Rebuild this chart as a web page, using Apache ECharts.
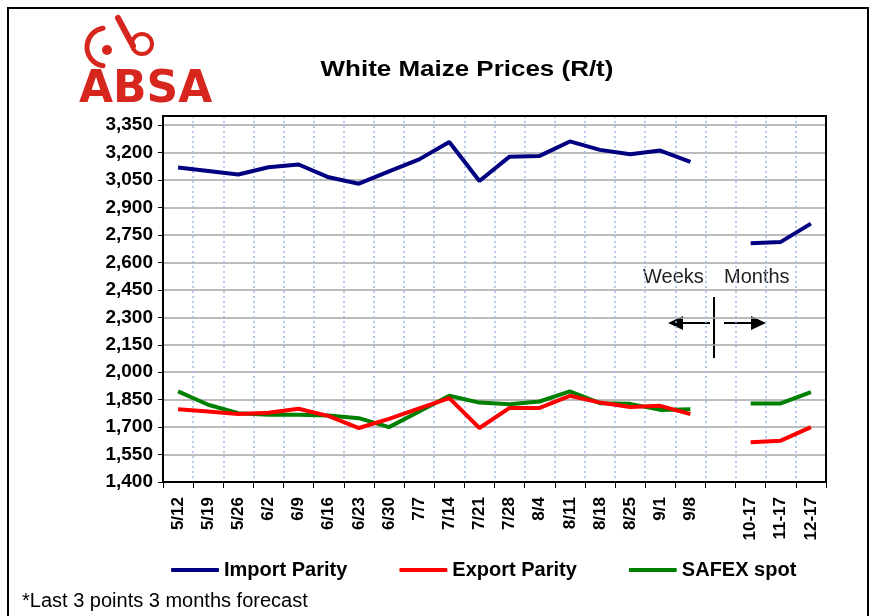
<!DOCTYPE html>
<html>
<head>
<meta charset="utf-8">
<script src="https://cdn.jsdelivr.net/npm/echarts@6/dist/echarts.min.js"></script>
<style>
html,body{margin:0;padding:0;background:#fff;}
#c{width:872px;height:616px;}
</style>
</head>
<body>
<div id="c"></div>
<script>
var categories = ['5/12','5/19','5/26','6/2','6/9','6/16','6/23','6/30','7/7','7/14','7/21','7/28','8/4','8/11','8/18','8/25','9/1','9/8','','10-17','11-17','12-17'];
var importParity = [3118,3100,3080,3120,3135,3065,3030,3097,3163,3258,3045,3178,3182,3261,3215,3191,3211,3149,null,2705,2712,2812];
var exportParity = [1798,1785,1772,1778,1800,1760,1695,1745,1802,1858,1695,1805,1805,1871,1834,1810,1816,1771,null,1617,1626,1700];
var safexSpot   = [1895,1822,1776,1767,1767,1763,1749,1700,1785,1871,1834,1825,1840,1895,1831,1827,1794,1798,null,1829,1829,1891];
var seriesNames = ['Import Parity','Export Parity','SAFEX spot'];
var seriesColors = ['#000080','#ff0000','#008000'];

var sans = '"Liberation Sans", Arial, sans-serif';

var chart = echarts.init(document.getElementById('c'));
var data = [importParity, exportParity, safexSpot];
var series = seriesNames.map(function(n, i){
  return {
    name: n, type: 'line', data: data[i], symbol: 'none', connectNulls: false,
    lineStyle: {color: seriesColors[i], width: 4}, itemStyle: {color: seriesColors[i]},
    z: 10 - i
  };
});

var red = '#d7261e';
var G = {left: 163, top: 116, right: 46, bottom: 134};
chart.setOption({
  animation: false,
  backgroundColor: '#fff',
  grid: {left: G.left, right: G.right, top: G.top, bottom: G.bottom},
  legend: {
    bottom: 31, left: 166, itemWidth: 48, itemHeight: 4, itemGap: 52, icon: 'roundRect',
    textStyle: {fontFamily: sans, fontWeight: 'bold', fontSize: 20, color: '#000'},
    data: seriesNames
  },
  xAxis: {
    type: 'category', data: categories, boundaryGap: true,
    axisLine: {lineStyle: {color: '#000', width: 2}},
    axisTick: {show: true, interval: 0, length: 6, lineStyle: {color: '#000', width: 1}},
    axisLabel: {interval: 0, rotate: 90, margin: 15, fontFamily: sans, fontWeight: 'bold', fontSize: 17, color: '#000'},
    splitLine: {show: true, interval: 0, lineStyle: {color: '#9db9e8', type: [2, 3], width: 1.5}}
  },
  yAxis: {
    type: 'value', min: 1400, max: 3400, interval: 150,
    axisLine: {show: true, lineStyle: {color: '#000', width: 2}},
    axisTick: {show: true, length: 5, lineStyle: {color: '#000'}},
    axisLabel: {showMaxLabel: false, margin: 10, fontFamily: sans, fontWeight: 'bold', fontSize: 19, color: '#000',
      formatter: function(v){ return v.toLocaleString('en-US'); }},
    splitLine: {show: true, lineStyle: {color: '#a6a6a6', width: 1.5}}
  },
  series: series,
  graphic: [
    {type: 'rect', shape: {x: 8, y: 8, width: 860, height: 640}, style: {fill: 'none', stroke: '#000', lineWidth: 2}, silent: true},
    {type: 'rect', z: 100, shape: {x: G.left, y: G.top, width: 872 - G.left - G.right, height: 616 - G.top - G.bottom}, style: {fill: 'none', stroke: '#000', lineWidth: 2}, silent: true},
    {type: 'text', x: 467, y: 70, scaleX: 1.18, originX: 0, originY: 0, style: {text: 'White Maize Prices (R/t)', fill: '#000', font: 'bold 22px ' + sans, textAlign: 'center', textVerticalAlign: 'middle'}},
    {type: 'text', x: 79, y: 69, style: {text: 'ABSA', fill: red, font: 'bold 44px "DejaVu Sans", sans-serif'}},
    {type: 'circle', shape: {cx: 107, cy: 50, r: 5}, style: {fill: red}},
    {type: 'arc', shape: {cx: 106, cy: 47, r: 19, startAngle: Math.PI * 0.55, endAngle: Math.PI * 1.45, clockwise: true}, style: {stroke: red, lineWidth: 5, fill: 'none', lineCap: 'round'}},
    {type: 'line', shape: {x1: 118, y1: 18, x2: 133, y2: 46}, style: {stroke: red, lineWidth: 6, lineCap: 'round'}},
    {type: 'circle', shape: {cx: 142, cy: 44, r: 10}, style: {stroke: red, lineWidth: 4, fill: 'none'}},
    {type: 'text', x: 643, y: 267, style: {text: 'Weeks', fill: '#222', font: '20px ' + sans}},
    {type: 'text', x: 724, y: 267, style: {text: 'Months', fill: '#222', font: '20px ' + sans}},
    {type: 'line', shape: {x1: 714, y1: 297, x2: 714, y2: 358}, style: {stroke: '#000', lineWidth: 2}},
    {type: 'line', shape: {x1: 710, y1: 323, x2: 680, y2: 323}, style: {stroke: '#000', lineWidth: 2}},
    {type: 'polygon', shape: {points: [[668, 323], [683, 316], [683, 330]]}, style: {fill: '#000'}},
    {type: 'line', shape: {x1: 724, y1: 323, x2: 754, y2: 323}, style: {stroke: '#000', lineWidth: 2}},
    {type: 'polygon', shape: {points: [[766, 323], [751, 316], [751, 330]]}, style: {fill: '#000'}},
    {type: 'text', x: 22, y: 591, style: {text: '*Last 3 points 3 months forecast', fill: '#000', font: '20px ' + sans}}
  ]
});
</script>
</body>
</html>
